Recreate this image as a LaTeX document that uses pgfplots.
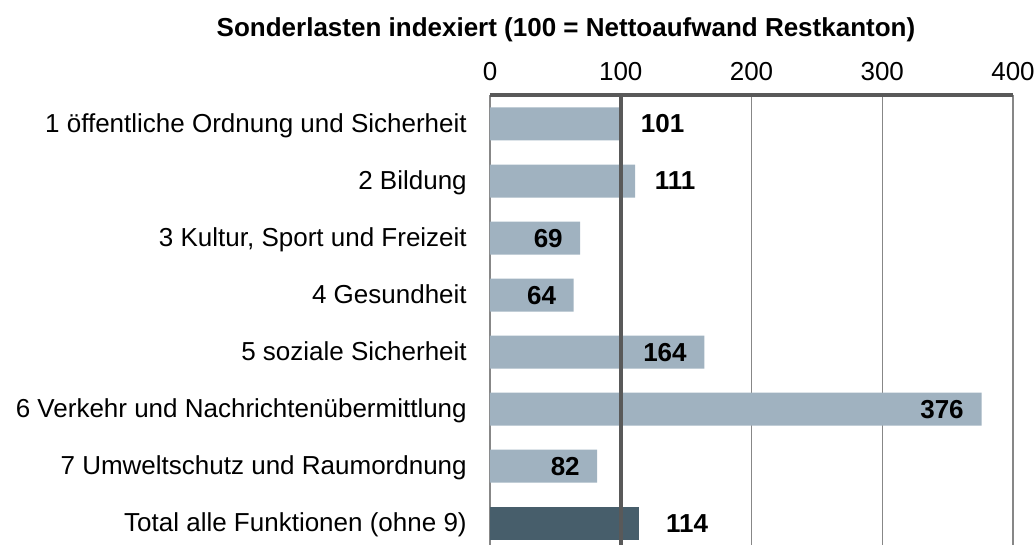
\documentclass[border=0pt]{standalone}
\usepackage{fontspec}
\setmainfont{Liberation Sans}
\usepackage{pgfplots}
\usepackage{pgfplotstable}
\pgfplotsset{compat=1.18}
\definecolor{barlight}{HTML}{A0B2C0}
\definecolor{bardark}{HTML}{475E6B}
\definecolor{linedark}{HTML}{595959}
\definecolor{gridgray}{HTML}{878787}

\pgfplotstableread{
idx val off
0 101 30.4
1 111 30.0
2 69 -24.0
3 64 -24.0
4 164 -29.6
5 376 -29.7
6 82 -24.0
}\maindata
\pgfplotstableread{
idx val off
7 114 36.0
}\totaldata

\begin{document}
\begin{tikzpicture}
\useasboundingbox (0,0) rectangle (776.25pt,-408.75pt);
\node[anchor=base, font=\bfseries\fontsize{19.5}{23}\selectfont, inner sep=0pt] at (424.5pt,-27.75pt) {Sonderlasten indexiert (100 = Nettoaufwand Restkanton)};
\begin{axis}[
  at={(367.5pt,-71.6pt)}, anchor=north west,
  scale only axis,
  width=392.25pt, height=342.2pt,
  xmin=0, xmax=400,
  ymin=-0.5, ymax=7.5,
  y dir=reverse,
  axis line style={draw=none},
  xtick={0,100,200,300,400},
  xticklabel pos=upper,
  major tick length=0pt,
  /pgf/number format/assume math mode=true,
  xticklabel style={font=\fontsize{19.5}{23}\selectfont, anchor=base, yshift=10.9pt},
  ytick={0,1,2,3,4,5,6,7},
  yticklabels={1 öffentliche Ordnung und Sicherheit, 2 Bildung, 3 Kultur{,} Sport und Freizeit, 4 Gesundheit, 5 soziale Sicherheit, 6 Verkehr und Nachrichtenübermittlung, 7 Umweltschutz und Raumordnung, Total alle Funktionen (ohne 9)},
  yticklabel style={font=\fontsize{19.5}{23}\selectfont, anchor=base east, inner sep=0pt, xshift=-17.25pt, yshift=-6.45pt},
  xmajorgrids,
  grid style={color=gridgray, line width=1.1pt},
  xbar, bar width=24.75pt, bar shift=0pt,
  point meta=explicit symbolic,
  nodes near coords={\textbf{\pgfplotspointmeta}},
  visualization depends on={\thisrow{off} \as \off},
  every node near coord/.append style={anchor=center, xshift=\off pt, font=\bfseries\fontsize{19.5}{23}\selectfont, text=black},
  clip=false,
]
\addplot[fill=barlight, draw=none] table[x=val, y=idx, meta=val] {\maindata};
\addplot[fill=bardark, draw=none] table[x=val, y=idx, meta=val] {\totaldata};
\draw[linedark, line width=3pt] (axis cs:100,-0.5) -- (axis cs:100,7.5);
\draw[linedark, line width=3pt] (axis cs:0,-0.5) -- (axis cs:400,-0.5);
\end{axis}
\end{tikzpicture}
\end{document}
